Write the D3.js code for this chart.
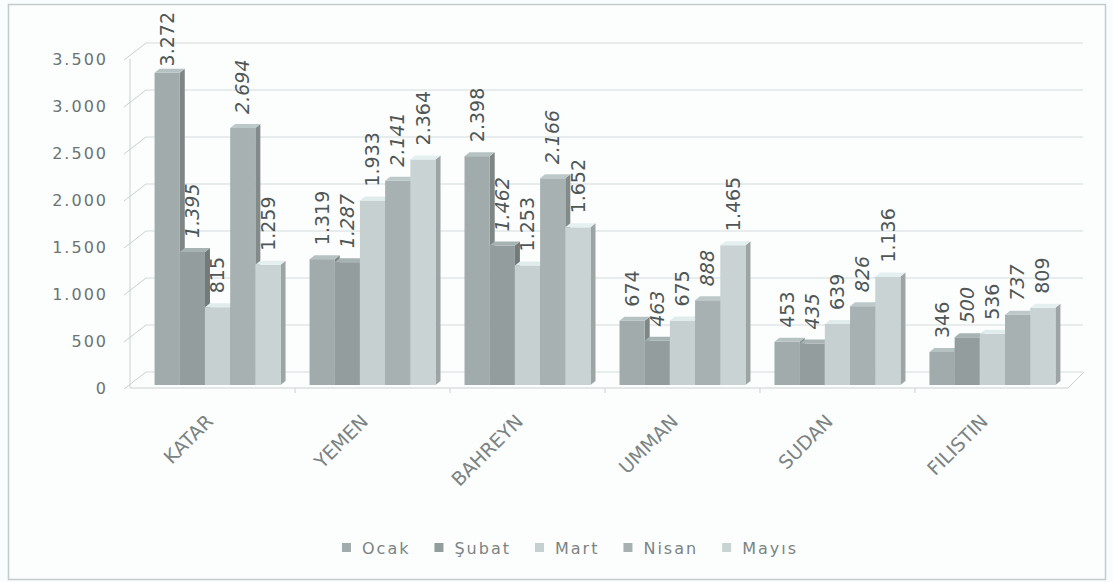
<!DOCTYPE html>
<html>
<head>
<meta charset="utf-8">
<script src="https://cdn.jsdelivr.net/npm/d3@7"></script>
<style>
  body { margin: 0; background: #fafdfd; }
  svg { display: block; font-family: "DejaVu Sans", sans-serif; }
</style>
</head>
<body>
<div class="contain"></div>
<script>
const countries = ["KATAR", "YEMEN", "BAHREYN", "UMMAN", "SUDAN", "FILISTIN"];
const months = ["Ocak", "Şubat", "Mart", "Nisan", "Mayıs"];

const ocak  = [3272, 1319, 2398, 674, 453, 346];
const subat = [1395, 1287, 1462, 463, 435, 500];
const mart  = [815, 1933, 1253, 675, 639, 536];
const nisan = [2694, 2141, 2166, 888, 826, 737];
const mayis = [1259, 2364, 1652, 1465, 1136, 809];

const yTicks = [0, 500, 1000, 1500, 2000, 2500, 3000, 3500];

const series = [ocak, subat, mart, nisan, mayis];
const monthColors = ["#a1abab", "#939d9d", "#c6d0d0", "#a7b1b1", "#c9d3d3"];
const italicMonths = ["Şubat", "Nisan"];

const svg_width = 1113;
const svg_height = 582;

// turkish number format: 1.000
const fmt = d3.formatLocale({decimal: ",", thousands: ".", grouping: [3], currency: ["", ""]}).format(",d");

let svg = d3.select(".contain").append("svg")
            .attr("width", svg_width).attr("height", svg_height);

// outer frame
svg.append("rect")
  .attr("x", 8.5).attr("y", 4.5).attr("width", 1097).attr("height", 575)
  .attr("fill", "#fcfefe").attr("stroke", "#c4cbcb").attr("stroke-width", 1.5);

let yScale = d3.scaleLinear().domain([0, 3500]).range([388, 59]);
let barScale = d3.scaleLinear().domain([0, 3500]).range([385, 51]);

let xScale = d3.scaleBand().domain(countries)
                .range([140, 1070]).paddingInner(0.187).paddingOuter(0.094);
let xSub = d3.scaleBand().domain(months).range([0, xScale.bandwidth()]);

const axisX = 130;
const wallX = 16, wallY = -16;   // shift of the back wall
const depX = 5, depY = -4;       // column depth

// back wall gridlines + slanted left wall ticks
let walls = svg.append("g").attr("stroke", "#d3dada").attr("fill", "none");
walls.selectAll("line.grid")
  .data(yTicks).enter().append("line").attr("class", "grid")
  .attr("x1", axisX + wallX).attr("x2", 1083)
  .attr("y1", d => yScale(d) + wallY).attr("y2", d => yScale(d) + wallY);
walls.selectAll("line.slant")
  .data(yTicks).enter().append("line").attr("class", "slant")
  .attr("stroke", "#c9d0d0")
  .attr("x1", axisX - 6).attr("x2", axisX + wallX)
  .attr("y1", d => yScale(d) + 1).attr("y2", d => yScale(d) + wallY);

// floor
let x0 = axisX, x1 = 1068;
walls.append("path")
  .attr("stroke", "#c9d0d0")
  .attr("d", `M${x0},${yScale(0)}L${x1},${yScale(0)}L${x1 + wallX},${yScale(0) + wallY}`);
walls.append("line")
  .attr("x1", x0).attr("x2", x0)
  .attr("y1", yScale(0)).attr("y2", yScale(3500))
  .attr("stroke", "#c9d0d0");

// y axis labels
let yAxis = d3.axisLeft(yScale).tickValues(yTicks).tickFormat(fmt)
              .tickSize(0).tickPadding(22);
let yG = svg.append("g").attr("transform", `translate(${axisX}, 0)`).call(yAxis);
yG.select(".domain").remove();
yG.selectAll("text")
  .attr("font-family", "DejaVu Sans").attr("font-size", 16)
  .attr("letter-spacing", 2).attr("fill", "#6b7373");

// x axis: group boundary ticks and rotated labels
svg.append("g").selectAll("line")
  .data(countries.slice(1)).enter().append("line")
  .attr("x1", d => xScale(d) - xScale.step() * xScale.paddingInner() / 2)
  .attr("x2", d => xScale(d) - xScale.step() * xScale.paddingInner() / 2)
  .attr("y1", yScale(0)).attr("y2", yScale(0) + 5)
  .attr("stroke", "#c9d0d0");
svg.append("g").selectAll("text")
  .data(countries).enter().append("text")
  .style("transform", d => `translate(${xScale(d) + xScale.bandwidth() / 2 - 8}px, ${yScale(0) + 30}px) rotate(-45deg)`)
  .attr("dy", "0.35em")
  .attr("text-anchor", "end")
  .attr("font-size", 19).attr("fill", "#7b8383")
  .text(d => d);

// columns
let barData = countries.map((c, ci) =>
  months.map((m, mi) => ({country: c, month: m, mi: mi, value: series[mi][ci]})));

let groups = svg.append("g").selectAll("g")
  .data(barData).enter().append("g")
  .attr("transform", d => `translate(${xScale(d[0].country)}, 0)`);

let w = xSub.bandwidth();
groups.each(function(bars) {
  let g = d3.select(this);
  bars.forEach(d => {
    let x = xSub(d.month);
    let top = barScale(d.value);
    let base = barScale(0);
    let col = d3.color(monthColors[d.mi]);
    g.append("path")
      .attr("d", `M${x + w},${top}L${x + w + depX},${top + depY}L${x + w + depX},${base + depY}L${x + w},${base}Z`)
      .attr("fill", col.darker(0.7));
    g.append("rect")
      .attr("x", x).attr("y", top).attr("width", w).attr("height", base - top)
      .attr("fill", col);
    g.append("path")
      .attr("d", `M${x},${top}L${x + depX},${top + depY}L${x + w + depX},${top + depY}L${x + w},${top}Z`)
      .attr("fill", col.brighter(0.35));
  });
});

// value labels, rotated
let labels = svg.append("g").selectAll("text")
  .data(barData.flat()).enter().append("text")
  .text(d => fmt(d.value))
  .attr("font-size", 19)
  .attr("font-style", d => italicMonths.includes(d.month) ? "italic" : "normal")
  .attr("fill", "#4f5656")
  .attr("dy", "0.35em");
labels.attr("transform", function(d) {
  let len = this.getComputedTextLength();
  let x = xScale(d.country) + xSub(d.month) + w / 2;
  let y = Math.max(barScale(d.value) - 14, 12 + len);
  return `translate(${x}, ${y}) rotate(-90)`;
});

// legend
let legend = svg.append("g");
let items = legend.selectAll("g").data(months).enter().append("g");
items.append("rect")
  .attr("width", 9).attr("height", 9).attr("y", -5)
  .attr("fill", (d, i) => monthColors[i]);
items.append("text")
  .attr("x", 20).attr("dy", "0.35em")
  .attr("font-size", 16).attr("letter-spacing", 2).attr("fill", "#7b8383")
  .text(d => d);
let lx = 0;
items.each(function() {
  d3.select(this).attr("transform", `translate(${lx}, 0)`);
  lx += this.getBBox().width + 24;
});
legend.attr("transform", `translate(${570 - (lx - 24) / 2}, 548)`);
</script>
</body>
</html>
